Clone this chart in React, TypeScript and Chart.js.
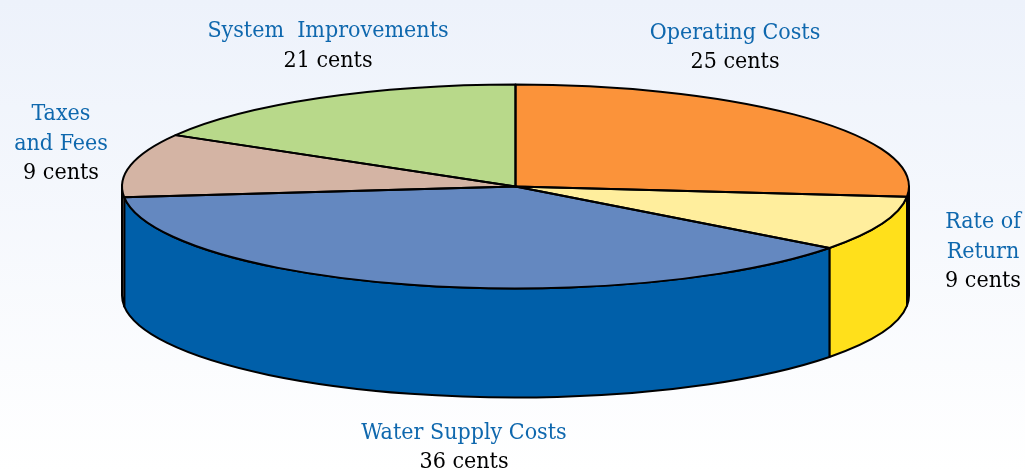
import React, { useEffect, useRef } from "react";
import { Chart, registerables } from "chart.js";

Chart.register(...registerables);

const categories = ["Operating Costs", "Rate of Return", "Water Supply Costs", "Taxes and Fees", "System Improvements"];
// Labelled amounts, printed as text.
const centsLabels = [25, 9, 36, 9, 21];
// Slice sizes as drawn in the picture (percent of the ellipse's angle).
const drawnShares = [26.6, 8.7, 38.0, 10.1, 16.6];
const labelLines = [["Operating Costs"], ["Rate of", "Return"], ["Water Supply Costs"], ["Taxes", "and Fees"], ["System  Improvements"]];

const topColors = ["#FB933A", "#FFEE9D", "#6488C0", "#D4B4A4", "#B8D98A"];
const wallColors = ["#E87A20", "#FFE01B", "#005FA9", "#C9A896", "#8FB860"];

const W = 1025;
const H = 472;
const CX = 515.5;
const CY = 186.5;
const RX = 393.5;
const RY = 102;
const DEPTH = 109;
const OUTLINE = 2;
const FONT = '23px "DejaVu Serif Condensed", "DejaVu Serif", serif';
const LABEL_BLUE = "#0F68AE";
// centre x, first baseline, line step for each label
const labelPos = [
  [735, 39, 29],
  [983, 228, 29.5],
  [464, 439, 29],
  [61, 120, 29.5],
  [328, 37, 30],
];

const pie3d = {
  id: "pie3d",
  beforeDraw(chart: any) {
    const { ctx } = chart;
    const g = ctx.createLinearGradient(0, 0, 0, H);
    g.addColorStop(0, "#EDF2FB");
    g.addColorStop(1, "#FFFFFF");
    ctx.save();
    ctx.fillStyle = g;
    ctx.fillRect(0, 0, W, H);
    ctx.restore();
  },
  beforeDatasetsDraw(chart: any) {
    const { ctx } = chart;
    const arcs = chart.getDatasetMeta(0).data;
    ctx.save();
    ctx.lineWidth = OUTLINE;
    ctx.strokeStyle = "#000";
    ctx.lineJoin = "round";
    arcs.forEach((arc: any, i: number) => {
      const a1 = Math.max(arc.startAngle, 0);
      const a2 = Math.min(arc.endAngle, Math.PI);
      if (a2 <= a1) return;
      ctx.beginPath();
      ctx.ellipse(CX, CY, RX, RY, 0, a1, a2);
      ctx.ellipse(CX, CY + DEPTH, RX, RY, 0, a2, a1, true);
      ctx.closePath();
      ctx.fillStyle = wallColors[i];
      ctx.fill();
      ctx.stroke();
    });
    ctx.restore();
  },
  beforeDatasetDraw(chart: any) {
    const { ctx } = chart;
    const arc = chart.getDatasetMeta(0).data[0];
    ctx.save();
    ctx.translate(CX, CY);
    ctx.scale(RX / arc.outerRadius, RY / arc.outerRadius);
    ctx.translate(-arc.x, -arc.y);
  },
  afterDatasetDraw(chart: any) {
    chart.ctx.restore();
  },
  afterDatasetsDraw(chart: any) {
    const { ctx } = chart;
    const arcs = chart.getDatasetMeta(0).data;
    ctx.save();
    ctx.lineWidth = OUTLINE;
    ctx.strokeStyle = "#000";
    ctx.lineJoin = "round";
    arcs.forEach((arc: any) => {
      ctx.beginPath();
      ctx.moveTo(CX, CY);
      ctx.ellipse(CX, CY, RX, RY, 0, arc.startAngle, arc.endAngle);
      ctx.closePath();
      ctx.stroke();
    });
    ctx.font = FONT;
    ctx.textAlign = "center";
    ctx.textBaseline = "alphabetic";
    labelLines.forEach((lines, i) => {
      const [x, y, step] = labelPos[i];
      ctx.fillStyle = LABEL_BLUE;
      lines.forEach((t, j) => ctx.fillText(t, x, y + j * step));
      ctx.fillStyle = "#000";
      ctx.fillText(`${centsLabels[i]} cents`, x, y + lines.length * step);
    });
    ctx.restore();
  },
};

export default function App() {
  const ref = useRef<HTMLCanvasElement>(null);
  useEffect(() => {
    document.body.style.margin = "0";
    const chart = new Chart(ref.current as HTMLCanvasElement, {
      type: "pie",
      data: {
        labels: categories,
        datasets: [{ data: drawnShares, backgroundColor: topColors, borderWidth: 0, clip: false } as any],
      },
      options: {
        responsive: false,
        animation: false,
        layout: { padding: 0 },
        plugins: { legend: { display: false }, tooltip: { enabled: false } },
      },
      plugins: [pie3d],
    });
    return () => chart.destroy();
  }, []);
  return <canvas ref={ref} width={W} height={H} style={{ display: "block" }} />;
}
